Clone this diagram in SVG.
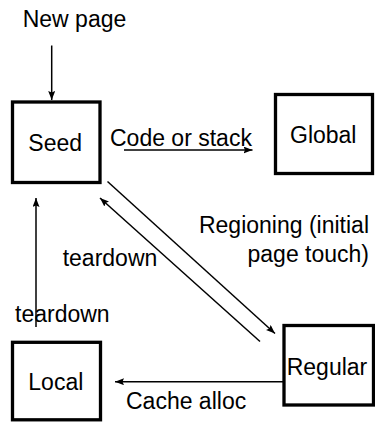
<svg xmlns="http://www.w3.org/2000/svg" width="375" height="422" viewBox="0 0 375 422">
<style>
text{font-family:"Liberation Sans",Arial,sans-serif;font-size:23px;fill:#000}
.box{fill:#fff;stroke:#000;stroke-width:3.3}
.edge{stroke:#000;stroke-width:1.5;fill:none}
</style>
<defs>
<marker id="ah" viewBox="0 0 9 7" refX="9" refY="3.5" markerWidth="9" markerHeight="7" markerUnits="userSpaceOnUse" orient="auto">
<path d="M0,0L9,3.5L0,7L1.5,3.5z" fill="#000"/>
</marker>
</defs>
<rect width="375" height="422" fill="#fff"/>
<g id="connectors">
<line class="edge" x1="51.7" y1="45.5" x2="51.7" y2="100" marker-end="url(#ah)"/>
<line class="edge" x1="124" y1="150" x2="252.5" y2="150" marker-end="url(#ah)"/>
<line class="edge" x1="107.5" y1="181.5" x2="275" y2="333.5" marker-end="url(#ah)"/>
<line class="edge" x1="260" y1="341.5" x2="100" y2="198" marker-end="url(#ah)"/>
<line class="edge" x1="36" y1="327" x2="36" y2="198" marker-end="url(#ah)"/>
<line class="edge" x1="283" y1="381.7" x2="115" y2="381.7" marker-end="url(#ah)"/>
<text x="22.7" y="27">New page</text>
<text x="110" y="145.7">Code or stack</text>
<text x="369" y="233.3" text-anchor="end">Regioning (initial</text>
<text x="369" y="262" text-anchor="end">page touch)</text>
<text x="62.7" y="266">teardown</text>
<text x="15" y="321.7">teardown</text>
<text x="126" y="409.3">Cache alloc</text>
</g>
<g id="seed">
<rect class="box" x="12.5" y="102" width="87.5" height="80.5"/>
<text x="28.3" y="150.7">Seed</text>
</g>
<g id="global">
<rect class="box" x="275.5" y="94.5" width="97" height="79"/>
<text x="290" y="143.3">Global</text>
</g>
<g id="regular">
<rect class="box" x="284" y="325.5" width="89.5" height="79.5"/>
<text x="286.7" y="375">Regular</text>
</g>
<g id="local">
<rect class="box" x="12.5" y="342.3" width="88" height="77.5"/>
<text x="28.3" y="390">Local</text>
</g>
</svg>
